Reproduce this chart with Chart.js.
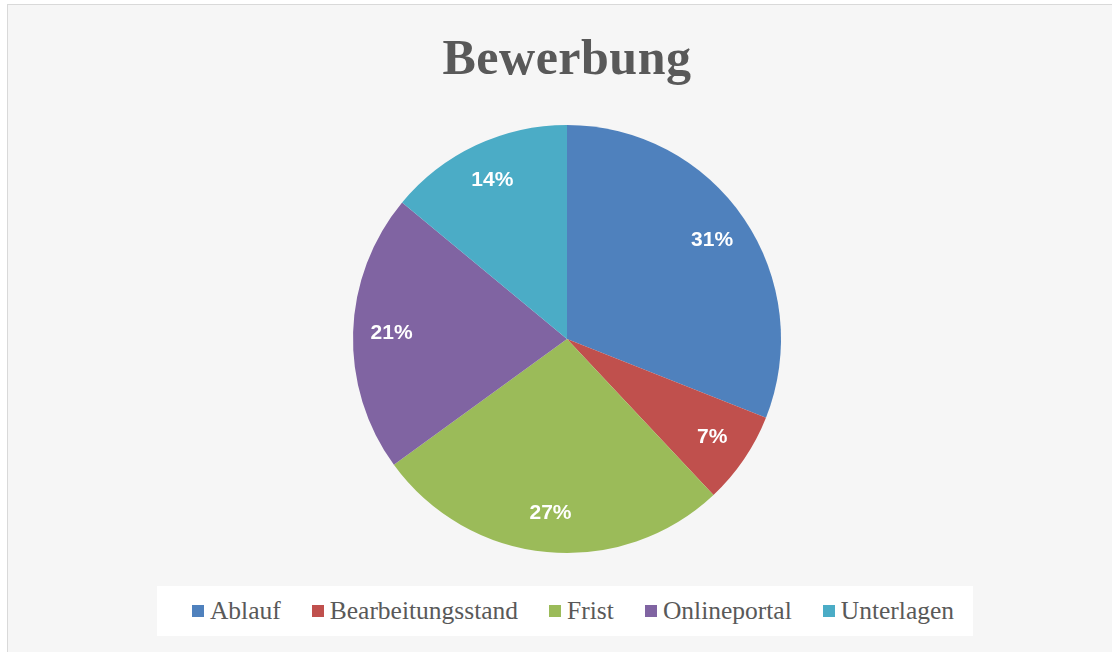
<!DOCTYPE html>
<html>
<head>
<meta charset="utf-8">
<script src="https://cdn.jsdelivr.net/npm/chart.js@4/dist/chart.umd.min.js"></script>
<style>
    html, body { margin: 0; padding: 0; }
    body { width: 1112px; height: 652px; background: #ffffff; position: relative; overflow: hidden; }
    #frame {
        position: absolute; left: 7px; top: 4px; width: 1110px; height: 660px;
        background: #f6f6f6; border: 1px solid #d9d9d9; box-sizing: border-box;
    }
    #title {
        position: absolute; left: 0; width: 1134px; top: 28px; text-align: center;
        font-family: "Liberation Serif", "DejaVu Serif", serif; font-weight: bold;
        font-size: 50px; color: #595959; letter-spacing: 0.5px;
    }
    #chart_box { position: absolute; left: 0; top: 0; width: 1112px; height: 652px; }
    #legend {
        position: absolute; left: 157px; top: 586px; width: 816px; height: 50px;
        background: #ffffff; display: flex; align-items: center; justify-content: center;
        box-sizing: border-box; padding-left: 16px;
        font-family: "Liberation Serif", serif; font-size: 25.5px; color: #595959;
    }
    .leg_item { display: flex; align-items: center; margin: 0 15.5px; }
    .leg_mark { width: 12px; height: 12px; margin-right: 6px; }
</style>
</head>
<body>
<div id="frame"></div>
<div id="title">Bewerbung</div>
<div id="chart_box"><canvas id="pie_canvas" width="1112" height="652"></canvas></div>
<div id="legend"></div>
<script>
const pie_labels = ['Ablauf', 'Bearbeitungsstand', 'Frist', 'Onlineportal', 'Unterlagen'];
const pie_values = [31, 7, 27, 21, 14];
const pie_colors = ['#4f81bd', '#c0504d', '#9bbb59', '#8064a2', '#4bacc6'];

const legend_el = document.getElementById('legend');
pie_labels.forEach(function (label, idx) {
    const item = document.createElement('div');
    item.className = 'leg_item';
    const mark = document.createElement('span');
    mark.className = 'leg_mark';
    mark.style.background = pie_colors[idx];
    const txt = document.createElement('span');
    txt.textContent = label;
    item.appendChild(mark);
    item.appendChild(txt);
    legend_el.appendChild(item);
});

// percent labels inside each slice
const slice_label_plugin = {
    id: 'slice_labels',
    afterDatasetsDraw(chart) {
        const ctx = chart.ctx;
        const meta = chart.getDatasetMeta(0);
        const total = pie_values.reduce(function (a, b) { return a + b; }, 0);
        ctx.save();
        ctx.fillStyle = '#ffffff';
        ctx.font = 'bold 21px "Liberation Sans", Arial, sans-serif';
        ctx.textAlign = 'center';
        ctx.textBaseline = 'middle';
        meta.data.forEach(function (arc, idx) {
            const mid = (arc.startAngle + arc.endAngle) / 2;
            const r = arc.outerRadius * 0.82;
            const x = arc.x + Math.cos(mid) * r;
            const y = arc.y + Math.sin(mid) * r;
            ctx.fillText(Math.round(pie_values[idx] / total * 100) + '%', x, y);
        });
        ctx.restore();
    },
};

new Chart(document.getElementById('pie_canvas').getContext('2d'), {
    type: 'pie',
    data: {
        labels: pie_labels,
        datasets: [{
            data: pie_values,
            backgroundColor: pie_colors,
            borderWidth: 0,
        }],
    },
    options: {
        responsive: false,
        animation: false,
        layout: { padding: { left: 353, right: 331, top: 125, bottom: 99 } },
        plugins: {
            legend: { display: false },
            title: { display: false },
            tooltip: { enabled: false },
        },
    },
    plugins: [slice_label_plugin],
});
</script>
</body>
</html>
